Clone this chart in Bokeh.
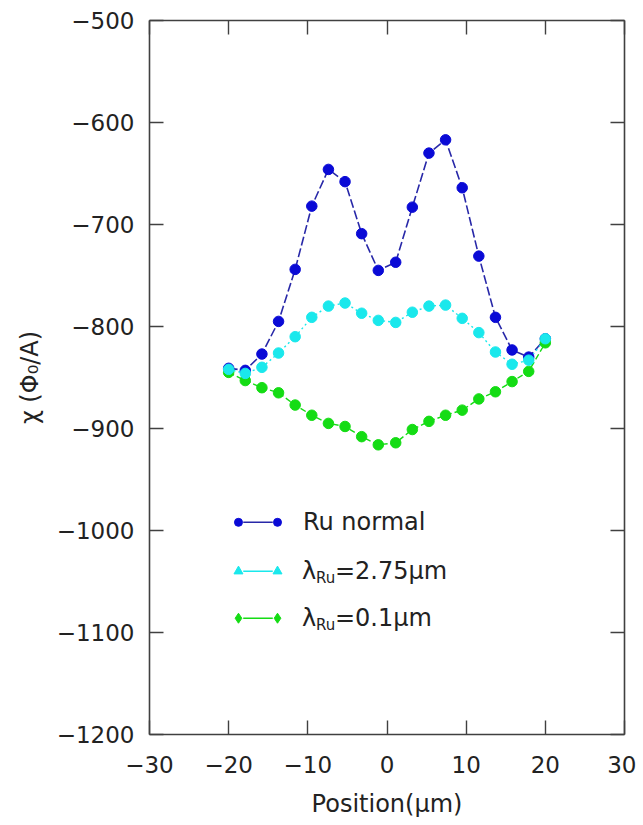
from bokeh.plotting import figure
from bokeh.models import LinearAxis, FixedTicker, Label, Range1d, ColumnDataSource
from bokeh.embed import file_html
from bokeh.resources import INLINE

# ---- data ----
positions = [-20.0, -17.9, -15.8, -13.7, -11.6, -9.5, -7.4, -5.3, -3.2, -1.1,
             1.1, 3.2, 5.3, 7.4, 9.5, 11.6, 13.7, 15.8, 17.9, 20.0]
ru_normal = [-841, -843, -827, -795, -744, -682, -646, -658, -709, -745,
             -737, -683, -630, -617, -664, -731, -791, -823, -830, -812]
lambda_275 = [-842, -846, -840, -826, -810, -791, -780, -777, -787, -794,
              -796, -786, -780, -779, -792, -806, -825, -837, -833, -812]
lambda_01 = [-845, -853, -860, -865, -877, -887, -895, -898, -908, -916,
             -914, -901, -893, -887, -882, -871, -864, -854, -844, -816]

x_ticks = [-30, -20, -10, 0, 10, 20, 30]
y_ticks = [-1200, -1100, -1000, -900, -800, -700, -600, -500]
series_names = ["Ru normal", "2.75\u00b5m", "0.1\u00b5m"]

# legend layout (data space)
leg_x = [-18.76, -13.83]
leg_rows = [-992, -1040, -1086]
leg_text_x = -10.75

BLUE = "#0a0ad6"
BLUE_LINE = "#2828a8"
CYAN = "#1ae8ec"
GREEN = "#14dc14"
AX = "#404040"
FONT = "DejaVu Sans"
TXT = "#222222"

W, H = 636, 825
p = figure(width=W, height=H, output_backend="svg", toolbar_location=None,
           x_range=Range1d(-30, 30), y_range=Range1d(-1200, -500),
           min_border_left=149, min_border_right=12, min_border_top=20,
           min_border_bottom=H - 734,
           x_axis_location=None, y_axis_location=None)
p.outline_line_color = None
p.grid.visible = False
p.background_fill_color = "white"
p.border_fill_color = "white"

def fmt(v):
    return ("\u2212" + str(abs(v))) if v < 0 else str(v)

def make_axis(ticks, labels=True):
    ax = LinearAxis(ticker=FixedTicker(ticks=ticks))
    ax.major_label_overrides = {t: fmt(t) for t in ticks}
    ax.major_tick_in = 14
    ax.major_tick_out = 0
    ax.minor_tick_line_color = None
    ax.axis_line_color = AX
    ax.axis_line_width = 1.6
    ax.major_tick_line_color = AX
    ax.major_tick_line_width = 1.4
    ax.major_label_text_font = FONT
    ax.major_label_text_font_size = "23px"
    ax.major_label_text_color = TXT
    ax.axis_label_text_font = FONT
    ax.axis_label_text_font_size = "24px"
    ax.axis_label_text_font_style = "normal"
    ax.axis_label_text_color = TXT
    if not labels:
        ax.major_label_text_color = None
        ax.major_label_text_font_size = "1px"
        ax.major_label_standoff = 0
    return ax

xb = make_axis(x_ticks)
xb.axis_label = "Position(\u00b5m)"
xb.major_label_standoff = 21
xb.axis_label_standoff = 14
yl = make_axis(y_ticks)
yl.axis_label = "\u03c7 (\u03a6\u2080/A)"
yl.major_label_standoff = 15
yl.axis_label_standoff = 10
xt = make_axis(x_ticks, labels=False)
yr = make_axis(y_ticks, labels=False)
p.add_layout(xb, "below")
p.add_layout(yl, "left")
p.add_layout(xt, "above")
p.add_layout(yr, "right")

src = ColumnDataSource(dict(x=positions, a=ru_normal, b=lambda_275, c=lambda_01))

# lines
p.line("x", "a", source=src, line_color=BLUE_LINE, line_width=1.6, line_dash="9 3")
p.line("x", "c", source=src, line_color=GREEN, line_width=1.4, line_dash="6 3")
p.line("x", "b", source=src, line_color=CYAN, line_width=1.4, line_dash="2 3")
# markers
p.scatter("x", "a", source=src, marker="circle", size=10.5, fill_color=BLUE, line_color=BLUE)
p.scatter("x", "c", source=src, marker="circle", size=10.5, fill_color=GREEN, line_color=GREEN)
p.scatter("x", "b", source=src, marker="circle", size=10.5, fill_color=CYAN, line_color=CYAN)

# legend (manual, to allow subscripts)
leg_markers = ["circle", "triangle", "diamond"]
leg_fill = [BLUE, CYAN, GREEN]
leg_line = [BLUE_LINE, CYAN, GREEN]
leg_sizes = [8, 9, 10]
for i in range(3):
    yy = leg_rows[i]
    p.segment(x0=[leg_x[0] + 0.6], y0=[yy], x1=[leg_x[1] - 0.6], y1=[yy],
              line_color=leg_line[i], line_width=1.5)
    p.scatter(x=leg_x, y=[yy, yy], marker=leg_markers[i], size=leg_sizes[i],
              fill_color=leg_fill[i], line_color=leg_fill[i])

def lab(text, x, y, xo=0, yo=0, size="24px"):
    p.add_layout(Label(x=x, y=y, x_offset=xo, y_offset=yo, text=text,
                       text_font=FONT, text_font_size=size, text_color=TXT,
                       text_baseline="middle", text_align="left"))

lab(series_names[0], leg_text_x, leg_rows[0], xo=1)
for i in (1, 2):
    lab("\u03bb", leg_text_x, leg_rows[i], xo=0)
    lab("Ru", leg_text_x, leg_rows[i], xo=14, yo=-7, size="15px")
    lab("=" + series_names[i], leg_text_x, leg_rows[i], xo=33)

open("out.html", "w").write(file_html(p, INLINE))
